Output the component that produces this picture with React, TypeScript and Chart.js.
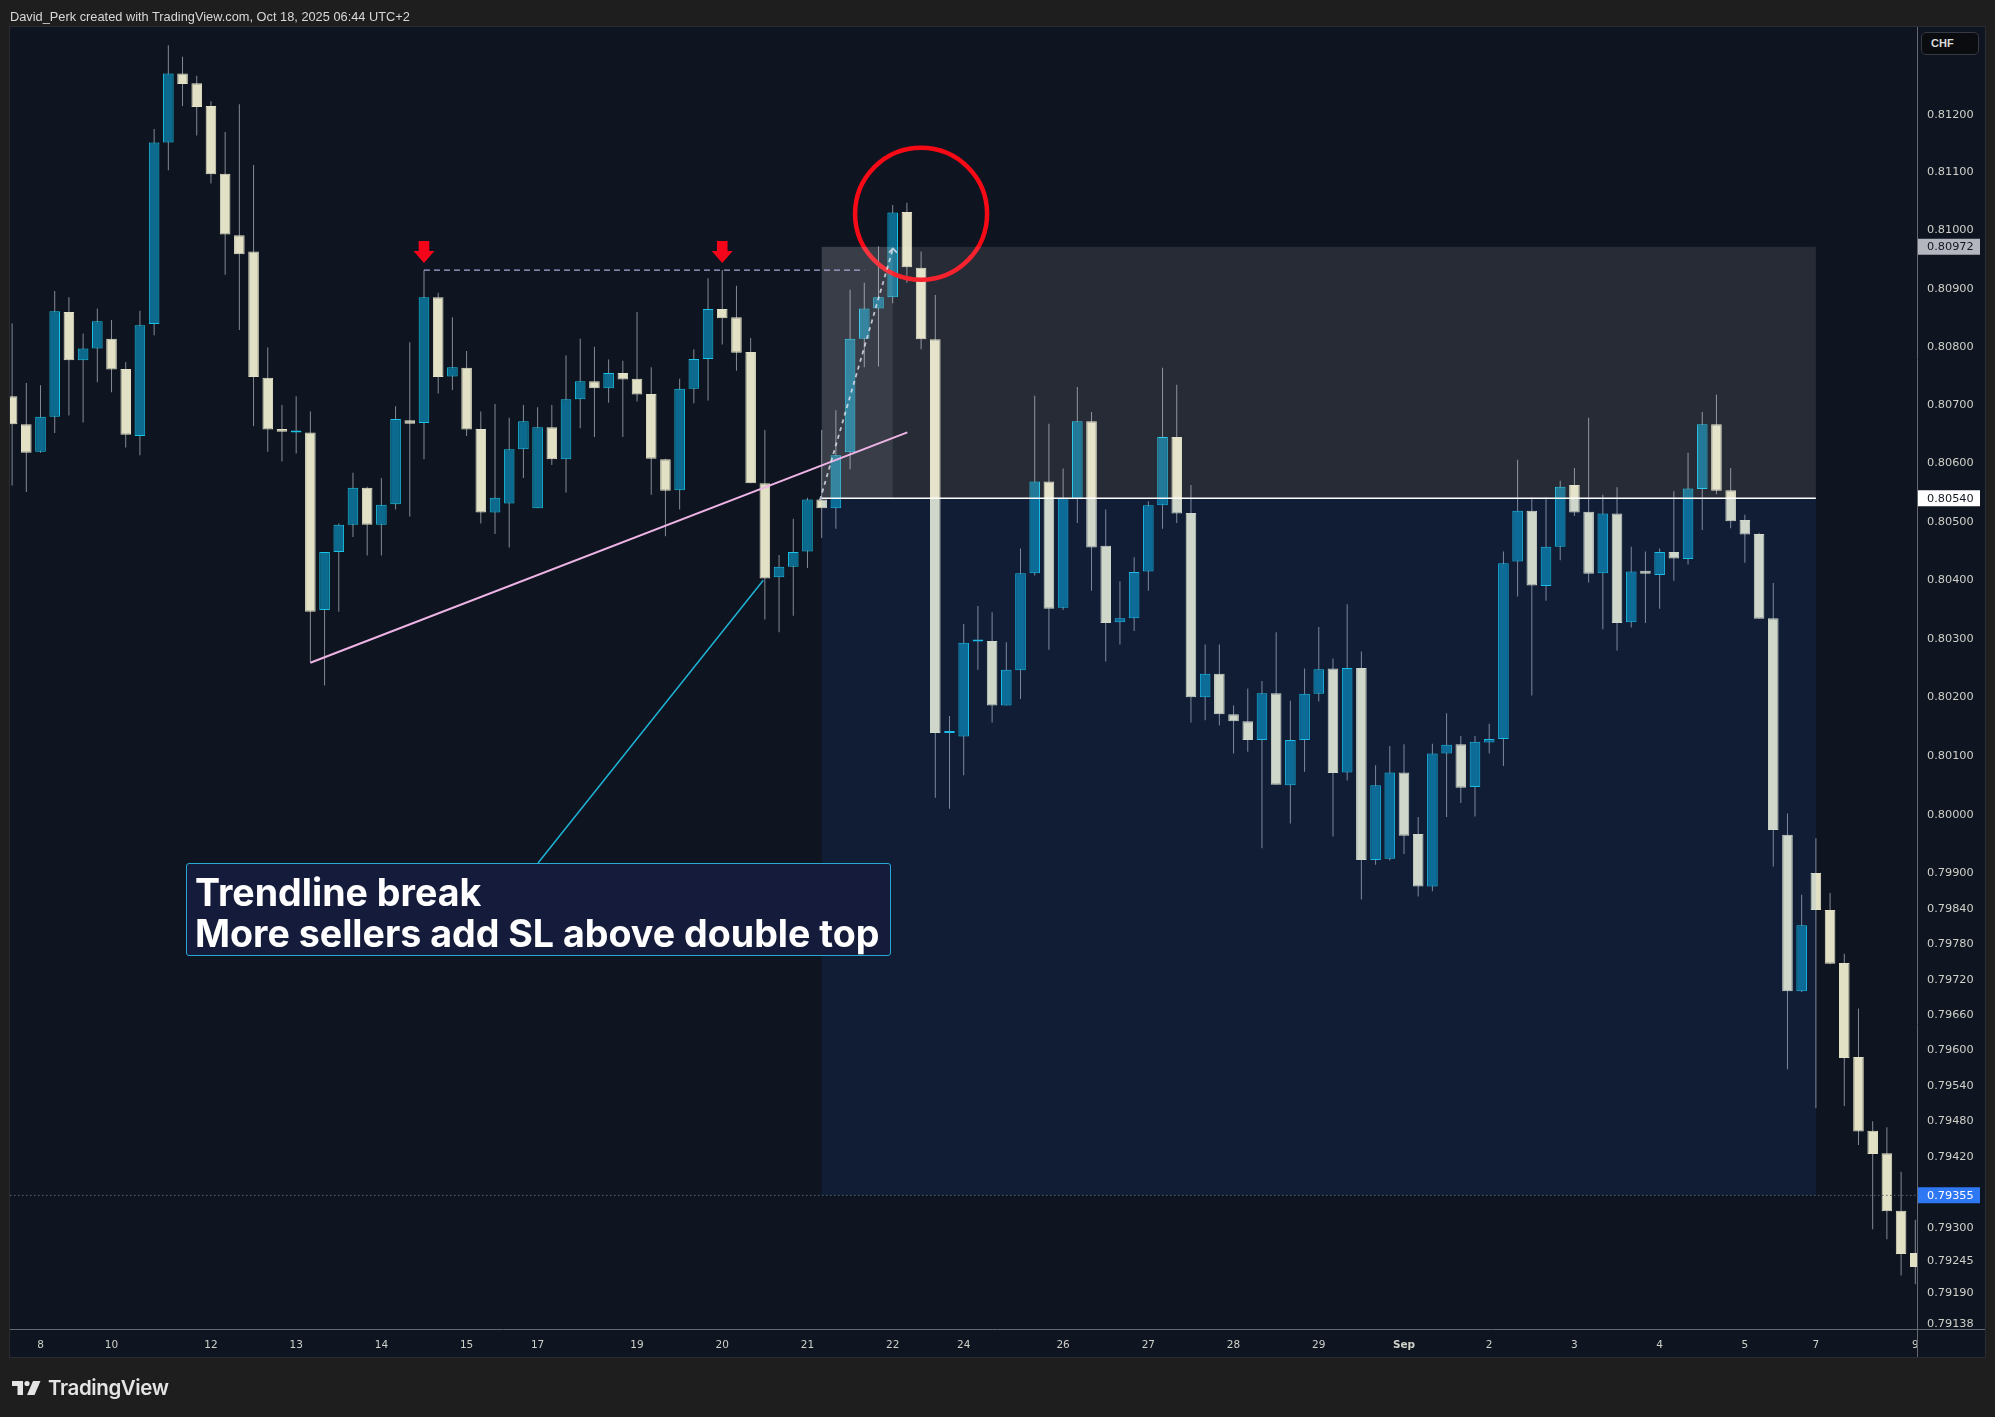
import React, { useEffect, useRef } from "react";
import { Chart, registerables } from "chart.js";

Chart.register(...registerables);

// ---- 4H candles (USD/CHF-like), index 0..134 ----
const opens = [
  0.80715, 0.80667, 0.80620, 0.80680, 0.80860, 0.80777, 0.80797, 0.80814, 0.80762, 0.80647,
  0.80839, 0.81152, 0.81271, 0.81254, 0.81215, 0.81098, 0.80992, 0.80964, 0.80747, 0.80659,
  0.80653, 0.80653, 0.80349, 0.80448, 0.80495, 0.80558, 0.80495, 0.80530, 0.80674, 0.80669,
  0.80885, 0.80749, 0.80764, 0.80659, 0.80516, 0.80531, 0.80624, 0.80523, 0.80662, 0.80607,
  0.80710, 0.80741, 0.80729, 0.80755, 0.80745, 0.80719, 0.80607, 0.80554, 0.80728, 0.80779,
  0.80865, 0.80851, 0.80791, 0.80566, 0.80405, 0.80423, 0.80449, 0.80538, 0.80523, 0.80619,
  0.80814, 0.80866, 0.80885, 0.81032, 0.80936, 0.80813, 0.80139, 0.80133, 0.80295, 0.80296,
  0.80186, 0.80246, 0.80412, 0.80569, 0.80353, 0.80539, 0.80672, 0.80459, 0.80328, 0.80335,
  0.80415, 0.80528, 0.80645, 0.80515, 0.80200, 0.80240, 0.80171, 0.80159, 0.80127, 0.80207,
  0.80050, 0.80127, 0.80206, 0.80249, 0.80072, 0.80250, 0.79923, 0.79925, 0.80072, 0.79967,
  0.79878, 0.80104, 0.80120, 0.80047, 0.80123, 0.80129, 0.80432, 0.80519, 0.80390, 0.80457,
  0.80563, 0.80517, 0.80412, 0.80514, 0.80328, 0.80416, 0.80409, 0.80448, 0.80436, 0.80556,
  0.80667, 0.80554, 0.80503, 0.80479, 0.80335, 0.79966, 0.79700, 0.79901, 0.79838, 0.79748,
  0.79589, 0.79464, 0.79426, 0.79329, 0.79258,
];
const highs = [
  0.80840, 0.80738, 0.80734, 0.80896, 0.80885, 0.80823, 0.80866, 0.80846, 0.80774, 0.80862,
  0.81175, 0.81320, 0.81300, 0.81267, 0.81223, 0.81170, 0.81218, 0.81113, 0.80799, 0.80700,
  0.80715, 0.80689, 0.80448, 0.80497, 0.80584, 0.80560, 0.80575, 0.80698, 0.80808, 0.80932,
  0.80893, 0.80851, 0.80793, 0.80689, 0.80702, 0.80678, 0.80700, 0.80696, 0.80700, 0.80785,
  0.80814, 0.80800, 0.80778, 0.80776, 0.80860, 0.80765, 0.80608, 0.80745, 0.80796, 0.80918,
  0.80932, 0.80905, 0.80815, 0.80657, 0.80443, 0.80505, 0.80541, 0.80657, 0.80691, 0.80898,
  0.80910, 0.80973, 0.81044, 0.81048, 0.80964, 0.80889, 0.80168, 0.80325, 0.80356, 0.80345,
  0.80294, 0.80454, 0.80716, 0.80668, 0.80591, 0.80731, 0.80688, 0.80521, 0.80398, 0.80439,
  0.80535, 0.80764, 0.80735, 0.80563, 0.80290, 0.80290, 0.80186, 0.80215, 0.80228, 0.80311,
  0.80194, 0.80249, 0.80320, 0.80266, 0.80359, 0.80278, 0.80084, 0.80117, 0.80120, 0.79996,
  0.80121, 0.80173, 0.80134, 0.80134, 0.80155, 0.80449, 0.80606, 0.80542, 0.80542, 0.80570,
  0.80592, 0.80678, 0.80546, 0.80559, 0.80457, 0.80449, 0.80454, 0.80552, 0.80618, 0.80688,
  0.80718, 0.80592, 0.80512, 0.80481, 0.80395, 0.80002, 0.79864, 0.79960, 0.79867, 0.79764,
  0.79671, 0.79480, 0.79470, 0.79395, 0.79314,
];
const lows = [
  0.80562, 0.80551, 0.80618, 0.80652, 0.80682, 0.80670, 0.80739, 0.80722, 0.80627, 0.80614,
  0.80820, 0.81104, 0.81215, 0.81164, 0.81081, 0.80924, 0.80829, 0.80664, 0.80620, 0.80603,
  0.80617, 0.80259, 0.80220, 0.80346, 0.80474, 0.80442, 0.80442, 0.80521, 0.80509, 0.80607,
  0.80720, 0.80726, 0.80647, 0.80497, 0.80479, 0.80456, 0.80575, 0.80523, 0.80597, 0.80550,
  0.80660, 0.80645, 0.80704, 0.80645, 0.80706, 0.80546, 0.80475, 0.80521, 0.80703, 0.80708,
  0.80804, 0.80759, 0.80566, 0.80333, 0.80311, 0.80339, 0.80421, 0.80472, 0.80488, 0.80590,
  0.80765, 0.80766, 0.80875, 0.80910, 0.80796, 0.80029, 0.80010, 0.80067, 0.80247, 0.80157,
  0.80186, 0.80197, 0.80408, 0.80281, 0.80349, 0.80498, 0.80382, 0.80261, 0.80290, 0.80313,
  0.80382, 0.80488, 0.80498, 0.80157, 0.80161, 0.80152, 0.80104, 0.80107, 0.79943, 0.80051,
  0.79985, 0.80073, 0.80193, 0.79963, 0.80058, 0.79856, 0.79915, 0.79922, 0.79933, 0.79861,
  0.79870, 0.79996, 0.80020, 0.79997, 0.80104, 0.80083, 0.80372, 0.80203, 0.80365, 0.80434,
  0.80510, 0.80396, 0.80316, 0.80280, 0.80319, 0.80327, 0.80351, 0.80399, 0.80427, 0.80486,
  0.80547, 0.80489, 0.80430, 0.80334, 0.79912, 0.79568, 0.79699, 0.79502, 0.79746, 0.79506,
  0.79440, 0.79298, 0.79281, 0.79220, 0.79205,
];
const closes = [
  0.80667, 0.80618, 0.80680, 0.80861, 0.80777, 0.80797, 0.80844, 0.80761, 0.80649, 0.80837,
  0.81152, 0.81271, 0.81253, 0.81213, 0.81097, 0.80993, 0.80959, 0.80748, 0.80658, 0.80654,
  0.80655, 0.80346, 0.80448, 0.80495, 0.80558, 0.80495, 0.80529, 0.80676, 0.80668, 0.80885,
  0.80748, 0.80765, 0.80658, 0.80516, 0.80541, 0.80624, 0.80672, 0.80662, 0.80607, 0.80710,
  0.80741, 0.80729, 0.80755, 0.80744, 0.80718, 0.80608, 0.80553, 0.80728, 0.80779, 0.80865,
  0.80849, 0.80790, 0.80566, 0.80403, 0.80423, 0.80448, 0.80538, 0.80523, 0.80614, 0.80814,
  0.80866, 0.80885, 0.81031, 0.80937, 0.80813, 0.80139, 0.80140, 0.80293, 0.80296, 0.80186,
  0.80247, 0.80412, 0.80569, 0.80351, 0.80541, 0.80672, 0.80456, 0.80327, 0.80335, 0.80414,
  0.80528, 0.80645, 0.80514, 0.80200, 0.80240, 0.80171, 0.80159, 0.80127, 0.80207, 0.80051,
  0.80127, 0.80206, 0.80248, 0.80071, 0.80250, 0.79923, 0.80050, 0.80072, 0.79964, 0.79878,
  0.80104, 0.80119, 0.80046, 0.80124, 0.80129, 0.80429, 0.80519, 0.80391, 0.80457, 0.80560,
  0.80516, 0.80411, 0.80514, 0.80327, 0.80415, 0.80411, 0.80448, 0.80437, 0.80557, 0.80667,
  0.80553, 0.80501, 0.80478, 0.80334, 0.79974, 0.79700, 0.79812, 0.79838, 0.79747, 0.79587,
  0.79463, 0.79425, 0.79328, 0.79256, 0.79234,
];

// ---- axis ticks ----
const dayTickIndex = [2, 7, 14, 20, 26, 32, 37, 44, 50, 56, 62, 67, 74, 80, 86, 92, 98, 104, 110, 116, 122, 127, 134];
const dayTickText = ["8", "10", "12", "13", "14", "15", "17", "19", "20", "21", "22", "24", "26", "27", "28", "29", "Sep", "2", "3", "4", "5", "7", "9"];
const priceTicks = [
  0.812, 0.811, 0.81, 0.809, 0.808, 0.807, 0.806, 0.805, 0.804, 0.803, 0.802, 0.801, 0.8,
  0.799, 0.7984, 0.7978, 0.7972, 0.7966, 0.796, 0.7954, 0.7948, 0.7942, 0.793, 0.79245, 0.7919, 0.79138,
];

// ---- drawing annotations (data coordinates: candle index, price) ----
const stopPrice = 0.80972;
const entryPrice = 0.8054;
const targetPrice = 0.79355;
const positionStartIdx = 57;
const positionEndIdx = 127;
const highlightEndIdx = 62;
const doubleTopIdx = [29, 50];
const doubleTopPrice = 0.80932;
const doubleTopLineEndIdx = 60;
const trendStart = [21, 0.80259];
const trendEnd = [63.03, 0.80653];
const calloutStart = [37.03, 0.79918];
const calloutEnd = [52.89, 0.804];
const moveStart = [56.88, 0.80537];
const moveEnd = [62.02, 0.80969];
const circleCenter = [64.0, 0.81029];

const xMin = -0.148;
const xMax = 134.12;
const yMin = 0.791298;
const yMax = 0.813514;

const W = 1995;
const H = 1417;

const BULL_FILL = "#0b6a8d";
const BULL_BORDER = "#19c3e6";
const BEAR_FILL = "#e2e1c6";
const TICK_COLOR = "#cfd0c8";
const AXIS_FONT = "DejaVu Sans";

export default function App() {
  const canvasRef = useRef<HTMLCanvasElement | null>(null);

  useEffect(() => {
    const canvas = canvasRef.current;
    if (!canvas) return;

    const bodyData = opens.map((o, i) => ({ x: i, y: [Math.min(o, closes[i]), Math.max(o, closes[i])] }));
    const wickData = highs.map((h, i) => ({ x: i, y: [lows[i], h] }));
    const isBull = opens.map((o, i) => closes[i] >= o);

    const panelPlugin = {
      id: "panel",
      beforeDraw(chart: any) {
        const ctx = chart.ctx;
        ctx.save();
        ctx.fillStyle = "#1e1e1e";
        ctx.fillRect(0, 0, W, H);
        ctx.fillStyle = "#0e1420";
        ctx.fillRect(10, 27, 1975, 1330);
        ctx.strokeStyle = "#2a2c31";
        ctx.lineWidth = 1;
        ctx.strokeRect(9.5, 26.5, 1976, 1331);
        ctx.restore();
      },
      afterDatasetsDraw(chart: any) {
        const { ctx, chartArea: ca } = chart;
        const xs = chart.scales.x;
        const ys = chart.scales.y;
        const X = (v: number) => xs.getPixelForValue(v);
        const Y = (v: number) => ys.getPixelForValue(v);
        ctx.save();
        ctx.beginPath();
        ctx.rect(ca.left, ca.top, ca.right - ca.left, ca.bottom - ca.top);
        ctx.clip();

        // red circle around the spike
        ctx.beginPath();
        ctx.arc(X(circleCenter[0]), Y(circleCenter[1]), 66, 0, Math.PI * 2);
        ctx.strokeStyle = "#f50a16";
        ctx.lineWidth = 4.5;
        ctx.stroke();

        // position tool boxes
        const bx0 = X(positionStartIdx);
        const bx1 = X(positionEndIdx);
        const yStop = Y(stopPrice);
        const yEntry = Y(entryPrice);
        const yTarget = Y(targetPrice);
        ctx.fillStyle = "rgba(255,255,255,0.10)";
        ctx.fillRect(bx0, yStop, bx1 - bx0, yEntry - yStop);
        ctx.fillStyle = "rgba(255,255,255,0.085)";
        ctx.fillRect(bx0, yStop, X(highlightEndIdx) - bx0, yEntry - yStop);
        ctx.fillStyle = "rgba(35,121,242,0.10)";
        ctx.fillRect(bx0, yEntry, bx1 - bx0, yTarget - yEntry);

        // entry line
        ctx.beginPath();
        ctx.moveTo(bx0, yEntry);
        ctx.lineTo(bx1, yEntry);
        ctx.strokeStyle = "#ffffff";
        ctx.lineWidth = 1.5;
        ctx.stroke();

        // target dotted line across the pane
        ctx.beginPath();
        ctx.setLineDash([1.5, 2.5]);
        ctx.moveTo(ca.left, yTarget);
        ctx.lineTo(ca.right, yTarget);
        ctx.strokeStyle = "#5b6270";
        ctx.lineWidth = 1;
        ctx.stroke();

        // double-top dashed line
        const yDT = Y(doubleTopPrice);
        ctx.beginPath();
        ctx.setLineDash([6, 4]);
        ctx.moveTo(X(doubleTopIdx[0]), yDT);
        ctx.lineTo(X(doubleTopLineEndIdx), yDT);
        ctx.strokeStyle = "#a4a7d8";
        ctx.lineWidth = 1.2;
        ctx.stroke();
        ctx.setLineDash([]);

        // red arrows
        ctx.fillStyle = "#f5051a";
        doubleTopIdx.forEach((idx) => {
          const cx = X(idx);
          const tip = yDT - 7;
          ctx.beginPath();
          ctx.moveTo(cx - 5.3, tip - 22);
          ctx.lineTo(cx + 5.3, tip - 22);
          ctx.lineTo(cx + 5.3, tip - 12);
          ctx.lineTo(cx + 10.5, tip - 12);
          ctx.lineTo(cx, tip);
          ctx.lineTo(cx - 10.5, tip - 12);
          ctx.lineTo(cx - 5.3, tip - 12);
          ctx.closePath();
          ctx.fill();
        });

        // pink trendline
        ctx.beginPath();
        ctx.moveTo(X(trendStart[0]), Y(trendStart[1]));
        ctx.lineTo(X(trendEnd[0]), Y(trendEnd[1]));
        ctx.strokeStyle = "#eeb4e6";
        ctx.lineWidth = 2;
        ctx.stroke();

        // callout connector
        ctx.beginPath();
        ctx.moveTo(X(calloutStart[0]), Y(calloutStart[1]));
        ctx.lineTo(X(calloutEnd[0]), Y(calloutEnd[1]));
        ctx.strokeStyle = "#1fb3d6";
        ctx.lineWidth = 1.5;
        ctx.stroke();

        // dashed move path with chevron
        const mx0 = X(moveStart[0]);
        const my0 = Y(moveStart[1]);
        const mx1 = X(moveEnd[0]);
        const my1 = Y(moveEnd[1]);
        ctx.beginPath();
        ctx.setLineDash([4, 4]);
        ctx.moveTo(mx0, my0);
        ctx.lineTo(mx1, my1);
        ctx.strokeStyle = "rgba(225,230,240,0.8)";
        ctx.lineWidth = 1.8;
        ctx.stroke();
        ctx.setLineDash([]);
        ctx.beginPath();
        ctx.moveTo(mx1 - 4, my1 + 4);
        ctx.lineTo(mx1, my1);
        ctx.lineTo(mx1 + 4, my1 + 4);
        ctx.stroke();

        ctx.restore();
      },
      afterDraw(chart: any) {
        const { ctx, chartArea: ca } = chart;
        const ys = chart.scales.y;
        ctx.save();
        // axis lines
        ctx.strokeStyle = "#65686f";
        ctx.lineWidth = 1;
        ctx.beginPath();
        ctx.moveTo(Math.round(ca.right) + 0.5, 27);
        ctx.lineTo(Math.round(ca.right) + 0.5, 1357);
        ctx.moveTo(10, Math.round(ca.bottom) + 0.5);
        ctx.lineTo(1985, Math.round(ca.bottom) + 0.5);
        ctx.stroke();

        // price labels
        const tag = (price: number, bg: string, fg: string) => {
          const y = ys.getPixelForValue(price);
          ctx.fillStyle = bg;
          ctx.beginPath();
          ctx.rect(ca.right + 1, y - 8, 62, 16);
          ctx.fill();
          ctx.fillStyle = fg;
          ctx.font = `11.3px "${AXIS_FONT}"`;
          ctx.textBaseline = "middle";
          ctx.textAlign = "left";
          ctx.fillText(price.toFixed(5), ca.right + 10, y + 0.5);
        };
        tag(stopPrice, "#b4b6bf", "#131722");
        tag(entryPrice, "#ffffff", "#131722");
        tag(targetPrice, "#2f78f4", "#ffffff");
        ctx.restore();
      },
    };

    const chart = new Chart(canvas, {
      type: "bar",
      data: {
        datasets: [
          {
            label: "bodies",
            data: bodyData as any,
            backgroundColor: isBull.map((b) => (b ? BULL_FILL : BEAR_FILL)),
            borderColor: isBull.map((b) => (b ? BULL_BORDER : BEAR_FILL)),
            borderWidth: 1,
            borderSkipped: false,
            barThickness: 10.6,
            minBarLength: 2,
            grouped: false,
            inflateAmount: 0,
            order: 1,
            clip: 0,
          } as any,
          {
            label: "wicks",
            data: wickData as any,
            backgroundColor: "#868a94",
            borderWidth: 0,
            barThickness: 1,
            grouped: false,
            inflateAmount: 0,
            order: 2,
            clip: 0,
          } as any,
        ],
      },
      options: {
        responsive: false,
        animation: false,
        devicePixelRatio: 1,
        events: [],
        layout: { padding: { left: 10, top: 27, right: 10, bottom: 60 } },
        plugins: { legend: { display: false }, tooltip: { enabled: false } },
        scales: {
          x: {
            type: "linear",
            min: xMin,
            max: xMax,
            offset: false,
            grid: { display: false, drawTicks: false },
            border: { display: false },
            ticks: {
              autoSkip: false,
              maxRotation: 0,
              padding: 10,
              color: TICK_COLOR,
              font: (c: any) => ({
                family: AXIS_FONT,
                size: 10.5,
                weight: dayTickText[c.index] === "Sep" ? "bold" : "normal",
              }),
              callback: (v: any) => {
                const k = dayTickIndex.indexOf(Number(v));
                return k >= 0 ? dayTickText[k] : "";
              },
            },
            afterBuildTicks: (s: any) => {
              s.ticks = dayTickIndex.map((v) => ({ value: v }));
            },
            afterFit: (s: any) => {
              s.height = 28;
              s.paddingLeft = 0;
              s.paddingRight = 0;
            },
          } as any,
          y: {
            type: "logarithmic",
            position: "right",
            min: yMin,
            max: yMax,
            bounds: "data",
            beginAtZero: false,
            grid: { display: false, drawTicks: false },
            border: { display: false },
            ticks: {
              autoSkip: false,
              padding: 10,
              color: TICK_COLOR,
              font: { family: AXIS_FONT, size: 11.3 },
              callback: (v: any) => Number(v).toFixed(5),
            },
            afterBuildTicks: (s: any) => {
              s.ticks = priceTicks.map((v) => ({ value: v }));
            },
            afterFit: (s: any) => {
              s.width = 68;
              s.paddingTop = 0;
              s.paddingBottom = 0;
            },
          } as any,
        },
      },
      plugins: [panelPlugin],
    } as any);

    return () => chart.destroy();
  }, []);

  return (
    <div
      style={{
        position: "absolute",
        left: 0,
        top: 0,
        width: W,
        height: H,
        background: "#1e1e1e",
        overflow: "hidden",
        fontFamily: '"Liberation Sans", Arial, sans-serif',
      }}
    >
      <canvas
        ref={canvasRef}
        width={W}
        height={H}
        style={{ position: "absolute", left: 0, top: 0, width: W, height: H }}
      />
      <div
        style={{
          position: "absolute",
          left: 10,
          top: 8,
          fontSize: 12.8,
          lineHeight: "18px",
          color: "#d8d8d8",
          whiteSpace: "nowrap",
        }}
      >
        David_Perk created with TradingView.com, Oct 18, 2025 06:44 UTC+2
      </div>
      <div
        style={{
          position: "absolute",
          left: 1921,
          top: 32,
          width: 58,
          height: 23,
          boxSizing: "border-box",
          border: "1px solid #363a45",
          borderRadius: 5,
          background: "#0a0c10",
          color: "#dcdcdc",
          fontSize: 11,
          fontWeight: 600,
          lineHeight: "21px",
          paddingLeft: 9,
        }}
      >
        CHF
      </div>
      <div
        style={{
          position: "absolute",
          left: 186,
          top: 863,
          width: 705,
          height: 93,
          boxSizing: "border-box",
          border: "1px solid #27a9d4",
          borderRadius: 3,
          background: "#141b3b",
          color: "#ffffff",
          fontFamily: "Inter, 'Noto Sans', sans-serif",
          fontWeight: 700,
          fontSize: 37.6,
          lineHeight: "40.6px",
          padding: "9px 8px 0 8px",
          whiteSpace: "nowrap",
        }}
      >
        <div>Trendline break</div>
        <div>More sellers add SL above double top</div>
      </div>
      <div style={{ position: "absolute", left: 12, top: 1378, display: "flex", alignItems: "center" }}>
        <svg width="29" height="16" viewBox="0 0 29 16" style={{ display: "block" }}>
          <path d="M0 1 H11 V15 H5.5 V6 H0 Z" fill="#e4e4e4" />
          <circle cx="15" cy="3.5" r="2.6" fill="#e4e4e4" />
          <path d="M21 1 H28.5 L22.5 15 H15 Z" fill="#e4e4e4" />
        </svg>
        <span
          style={{
            marginLeft: 7,
            fontFamily: "Inter, sans-serif",
            fontWeight: 600,
            fontSize: 20.5,
            letterSpacing: -0.4,
            color: "#e4e4e4",
            lineHeight: "20px",
          }}
        >
          TradingView
        </span>
      </div>
    </div>
  );
}
